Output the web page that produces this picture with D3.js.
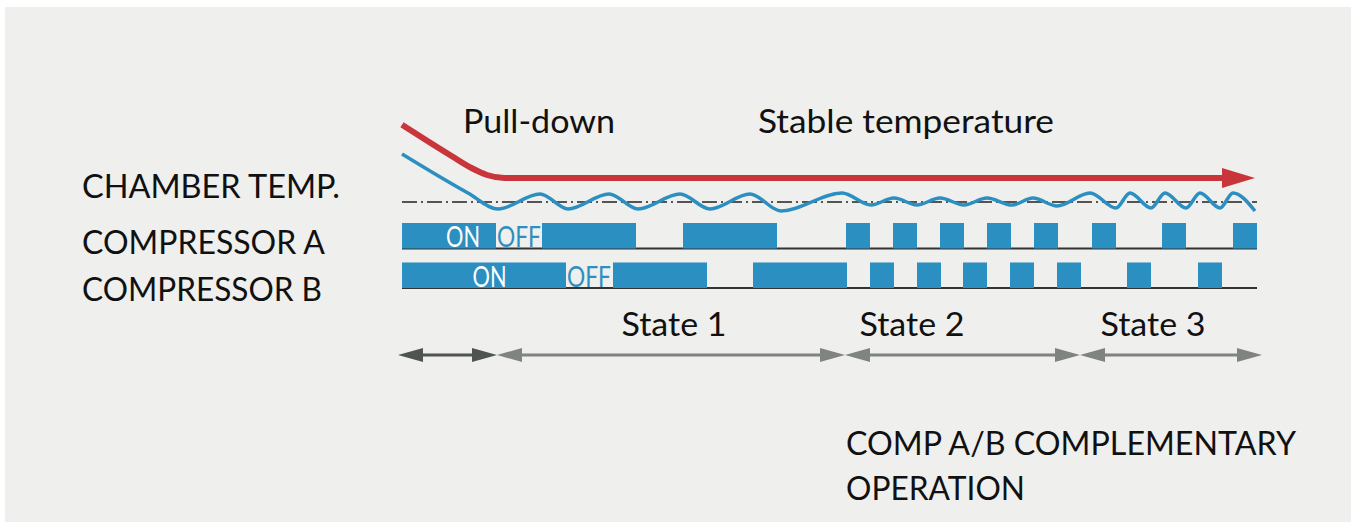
<!DOCTYPE html>
<html lang="en">
<head>
    <meta charset="UTF-8">
    <title>Compressor Complementary Operation</title>
    <script src="https://cdn.jsdelivr.net/npm/d3@7"></script>
    <style>
        html, body { margin: 0; padding: 0; background: #ffffff; }
        svg { display: block; }
        text { font-family: Lato, "Open Sans", sans-serif; fill: #111; }
    </style>
</head>
<body>
    <div id="chart"></div>
    <script>
        // Time axis runs in arbitrary units, 0 = start of pull-down
        const timeDomain = [0, 171];

        // Compressor ON intervals [start, end]
        const compA = [[0, 18.8], [28, 46.8], [56.2, 75], [88.8, 93.6], [98.2, 103], [107.6, 112.4],
                       [117, 121.8], [126.4, 131.2], [138, 142.8], [152, 156.8], [166.2, 171]];
        const compB = [[0, 32.8], [42.2, 61], [70.2, 89], [93.6, 98.4], [103, 107.8], [112.2, 117],
                       [121.6, 126.4], [131, 135.8], [145, 149.8], [159.2, 164]];

        // ON / OFF labels during pull-down: [text, time]
        const switchLabelsA = [["ON", 12.2], ["OFF", 23.4]];
        const switchLabelsB = [["ON", 17.5], ["OFF", 37.4]];

        // Chamber temperature (relative to setpoint) [time, value]
        const chamberTemp = [[0, 6.4], [13.2, 1.2], [19.2, -0.93], [27.6, 1.07], [33.2, -0.93], [41.4, 1.07],
            [47.2, -0.93], [55.6, 1.07], [61.6, -0.93], [69.6, 1.07], [75.8, -1.2], [88, 1.2],
            [93.8, -0.4], [98.4, 0.53], [103, -0.4], [107.6, 0.53], [112.4, -0.4], [117, 0.53],
            [122, -0.4], [126.2, 0.53], [131, -0.53], [137.6, 1.2], [142.8, -0.8], [145.6, 1.2],
            [149.8, -0.8], [152.6, 1.2], [156.8, -0.8], [159.6, 1.2], [163.6, -0.8], [166.2, 1.2],
            [170.6, -1.2]];

        // Target trend line (red arrow) [time, value]
        const targetTrend = [[0, 10.3], [10, 6.1], [14, 4.5], [17, 3.6], [20.5, 3.2], [165, 3.2]];
        const setpoint = 0;

        // Phase boundaries, names and label positions for the bottom arrows
        const phaseBounds = [-0.8, 19, 88.6, 135.6, 172];
        const phaseNames = ["", "State 1", "State 2", "State 3"];
        const phaseLabelAt = [null, 54.4, 102, 150.2];

        const rowLabels = ["CHAMBER TEMP.", "COMPRESSOR A", "COMPRESSOR B"];

        const width = 1354;
        const height = 522;

        const svg = d3.select("#chart").append("svg")
            .attr("width", width)
            .attr("height", height);

        // grey panel
        svg.append("rect")
            .attr("x", 5).attr("y", 7)
            .attr("width", 1346).attr("height", 515)
            .attr("fill", "#efefed");

        const x = d3.scaleLinear().domain(timeDomain).range([402, 1257]);
        const y = d3.scaleLinear().domain([-1.2, 10.3]).range([211, 124.75]);
        const row = d3.scaleBand().domain(["A", "B"]).range([223, 288]).paddingInner(0.354).paddingOuter(0);

        const blue = "#2b8fc2";
        const red = "#c8353a";

        // helper: text squeezed / stretched to the width seen in the original
        function label(str, px, py, w, anchor) {
            return svg.append("text")
                .attr("x", px).attr("y", py)
                .attr("font-size", 32)
                .attr("text-anchor", anchor || "start")
                .attr("textLength", w)
                .attr("lengthAdjust", "spacingAndGlyphs")
                .text(str);
        }

        // setpoint dash-dot line
        svg.append("line")
            .attr("x1", x(0)).attr("x2", x(171))
            .attr("y1", y(setpoint)).attr("y2", y(setpoint))
            .attr("stroke", "#222")
            .attr("stroke-width", 1.3)
            .attr("stroke-dasharray", "15,4,2,4");

        // red trend arrow
        const redLine = d3.line().x(d => x(d[0])).y(d => y(d[1])).curve(d3.curveMonotoneX);
        svg.append("path")
            .attr("d", redLine(targetTrend))
            .attr("fill", "none")
            .attr("stroke", red)
            .attr("stroke-width", 6);
        const tipT = 170.6, lastV = targetTrend[targetTrend.length - 1][1];
        svg.append("path")
            .attr("d", `M${x(164)},${y(lastV) - 10}L${x(tipT)},${y(lastV)}L${x(164)},${y(lastV) + 10}Z`)
            .attr("fill", red);

        // chamber temperature
        const tempLine = d3.line().x(d => x(d[0])).y(d => y(d[1])).curve(d3.curveMonotoneX);
        svg.append("path")
            .attr("d", tempLine(chamberTemp))
            .attr("fill", "none")
            .attr("stroke", blue)
            .attr("stroke-width", 3.5)
            .attr("stroke-linejoin", "round");

        // compressor rows
        [["A", compA, switchLabelsA], ["B", compB, switchLabelsB]].forEach(([key, data, labels]) => {
            const y0 = row(key), bh = row.bandwidth();
            svg.append("line")
                .attr("x1", x(0)).attr("x2", x(171))
                .attr("y1", y0 + bh).attr("y2", y0 + bh)
                .attr("stroke", "#333")
                .attr("stroke-width", 2);
            svg.selectAll(null)
                .data(data)
                .join("rect")
                .attr("x", d => x(d[0]))
                .attr("y", y0)
                .attr("width", d => x(d[1]) - x(d[0]))
                .attr("height", bh)
                .attr("fill", blue);
            svg.selectAll(null)
                .data(labels)
                .join("text")
                .attr("x", d => x(d[1]))
                .attr("y", y0 + bh - 1.5)
                .attr("text-anchor", "middle")
                .attr("font-family", "'Liberation Sans Narrow', 'Liberation Sans', sans-serif")
                .attr("font-size", 29)
                .attr("textLength", d => d[0] === "ON" ? 34 : 44)
                .attr("lengthAdjust", "spacingAndGlyphs")
                .style("fill", d => d[0] === "ON" ? "#ffffff" : blue)
                .text(d => d[0]);
        });

        // row labels on the left
        const rowLabelY = [198, 254, 301];
        const rowLabelW = [258, 243, 240];
        rowLabels.forEach((d, i) => label(d, 82, rowLabelY[i], rowLabelW[i]));

        // top annotations
        label("Pull-down", 463, 133, 152);
        label("Stable temperature", 758, 133, 296);

        // phase arrows
        const arrowY = 355;
        const head = 25, half = 7;
        phaseNames.forEach((name, i) => {
            const a = x(phaseBounds[i]), b = x(phaseBounds[i + 1]);
            const col = i === 0 ? "#4f5452" : "#7f8482";
            svg.append("line")
                .attr("x1", a + head - 2).attr("x2", b - head + 2)
                .attr("y1", arrowY).attr("y2", arrowY)
                .attr("stroke", col).attr("stroke-width", 3);
            svg.append("path")
                .attr("d", `M${a},${arrowY}L${a + head},${arrowY - half}L${a + head},${arrowY + half}Z`)
                .attr("fill", col);
            svg.append("path")
                .attr("d", `M${b},${arrowY}L${b - head},${arrowY - half}L${b - head},${arrowY + half}Z`)
                .attr("fill", col);
            if (name) label(name, x(phaseLabelAt[i]), 336, 105, "middle");
        });

        // note at the bottom
        label("COMP A/B COMPLEMENTARY", 846, 455, 450);
        label("OPERATION", 846, 500, 179);
    </script>
</body>
</html>
